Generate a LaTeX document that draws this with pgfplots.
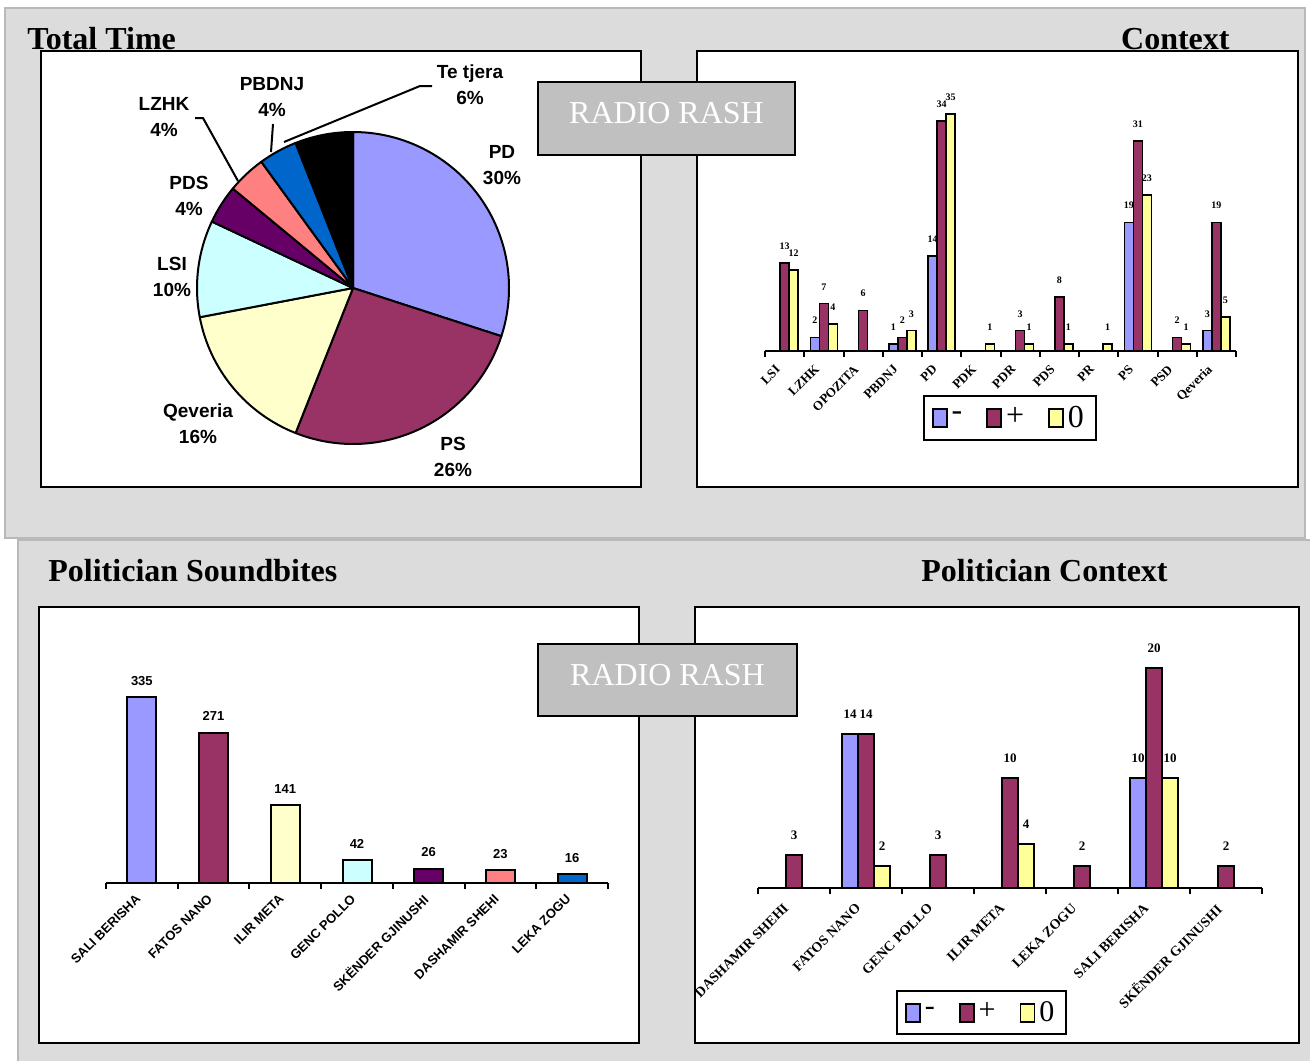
\documentclass[border=0pt]{standalone}
\usepackage{pgfplots}
\pgfplotsset{compat=1.18}
\usepackage{pgfplotstable}
\usepackage{fontspec}
\setmainfont{Liberation Serif}
\newfontfamily\arial{Liberation Sans}

\definecolor{cblue}{HTML}{9999FF}
\definecolor{cplum}{HTML}{993366}
\definecolor{cyel}{HTML}{FFFF99}
\definecolor{civory}{HTML}{FFFFCC}
\definecolor{ccyan}{HTML}{CCFFFF}
\definecolor{cpurp}{HTML}{660066}
\definecolor{csalmon}{HTML}{FF8080}
\definecolor{cocean}{HTML}{0066CC}
\definecolor{panel}{HTML}{DCDCDC}
\definecolor{radio}{HTML}{C0C0C0}

% Total Time (pie), percent per party
\pgfplotstableread{
name pct col
PD 30 cblue
PS 26 cplum
Qeveria 16 civory
LSI 10 ccyan
PDS 4 cpurp
LZHK 4 csalmon
PBDNJ 4 cocean
Tetjera 6 black
}\pietable

% Context: - / + / 0 per party
\pgfplotstableread{
x neg pos zero
0 nan 13 12
1 2 7 4
2 nan 6 nan
3 1 2 3
4 14 34 35
5 nan nan 1
6 nan 3 1
7 nan 8 1
8 nan nan 1
9 19 31 23
10 nan 2 1
11 3 19 5
}\ctxtable

% Politician context
\pgfplotstableread{
x neg pos zero
0 nan 3 nan
1 14 14 2
2 nan 3 nan
3 nan 10 4
4 nan 2 nan
5 10 20 10
6 nan 2 nan
}\polctx

\pgfplotsset{
  catbars/.style={
    scale only axis, clip=false,
    axis x line*=bottom, axis y line=none,
    axis line style={line width=1pt},
    major tick length=0pt, minor tick length=3pt,
    tick align=outside,
    minor tick style={line width=1pt, black},
    ymin=0,
    /pgf/number format/assume math mode=true,
  },
  sqimage/.style={
    legend image code/.code={\draw[##1, line width=0.9pt] (0pt,-4.5pt) rectangle (7pt,4.5pt);},
  },
}

\begin{document}
\begin{tikzpicture}
\begin{scope}[x=0.5pt, y=-0.5pt]
  \useasboundingbox (0,0) rectangle (1310,1060);
  \fill[white] (0,0) rectangle (1310,1060);
  \filldraw[fill=panel, draw=gray!55, line width=0.6pt] (5,8) rectangle (1305,538);
  \filldraw[fill=panel, draw=gray!55, line width=0.6pt] (18,540) rectangle (1314,1064);
  \filldraw[fill=white, draw=black, line width=1pt] (41,51) rectangle (641,487);
  \filldraw[fill=white, draw=black, line width=1pt] (697,51) rectangle (1298,487);
  \filldraw[fill=white, draw=black, line width=1pt] (39,607) rectangle (639,1043);
  \filldraw[fill=white, draw=black, line width=1pt] (695,607) rectangle (1299,1043);
  \coordinate (pie) at (353,288);
  \coordinate (ctx) at (765,351);
  \coordinate (snd) at (106,883);
  \coordinate (pol) at (758,888);
\end{scope}

% ---- Total Time pie
\begin{axis}[at={(pie)}, anchor=center, scale only axis, width=160pt, height=160pt,
  xmin=-1, xmax=1, ymin=-1, ymax=1, hide axis, clip=false]
\pgfplotsextra{
  \pgfplotstablegetrowsof{\pietable}
  \pgfmathtruncatemacro{\lastrow}{\pgfplotsretval-1}
  \gdef\cum{0}
  \foreach \i in {0,...,\lastrow}{
    \pgfplotstablegetelem{\i}{pct}\of\pietable
    \let\pctval\pgfplotsretval
    \pgfplotstablegetelem{\i}{col}\of\pietable
    \let\slicecol\pgfplotsretval
    \pgfmathsetmacro{\sa}{90-3.6*\cum}
    \pgfmathsetmacro{\sb}{90-3.6*(\cum+\pctval)}
    \filldraw[fill=\slicecol, draw=black, line width=1pt, line join=round]
      (axis cs:0,0) -- ++(\sa:78pt) arc[start angle=\sa, end angle=\sb, radius=78pt] -- cycle;
    \pgfmathsetmacro{\newcum}{\cum+\pctval}
    \xdef\cum{\newcum}
  }
}
\end{axis}

% ---- Context
\begin{axis}[catbars, at={(ctx)}, anchor=south west,
  width=235.5pt, height=118.5pt,
  xmin=-0.5, xmax=11.5, ymax=35,
  ybar=0pt, bar width=4.5pt,
  xtick={0,...,11},
  xticklabels={LSI,LZHK,OPOZITA,PBDNJ,PD,PDK,PDR,PDS,PR,PS,PSD,Qeveria},
  minor xtick={-0.5,0.5,...,11.5},
  xticklabel style={rotate=45, anchor=north east, inner sep=1pt, xshift=-7pt,
    font=\bfseries\fontsize{6.5}{7}\selectfont},
  nodes near coords,
  every node near coord/.append style={font=\bfseries\fontsize{5}{6}\selectfont, yshift=3pt},
  every axis plot/.append style={draw=black, line width=0.8pt, sqimage},
  legend columns=3,
  legend style={at={(0.52,-0.283)}, anchor=center, draw=black, line width=1pt,
    font=\fontsize{16}{17}\selectfont, inner xsep=4pt, inner ysep=3pt,
    /tikz/every even column/.append style={column sep=10pt}},
]
\addplot[fill=cblue] table[x=x, y=neg] {\ctxtable};
\addplot[fill=cplum] table[x=x, y=pos] {\ctxtable};
\addplot[fill=cyel] table[x=x, y=zero] {\ctxtable};
\addlegendentry{-}
\addlegendentry{+}
\addlegendentry{0}
\end{axis}

% ---- Politician Soundbites
\begin{axis}[catbars, at={(snd)}, anchor=south west,
  width=251pt, height=93pt,
  xmin=-0.5, xmax=6.5, ymax=335,
  xtick={0,...,6},
  xticklabels={SALI BERISHA,FATOS NANO,ILIR META,GENC POLLO,SKËNDER GJINUSHI,DASHAMIR SHEHI,LEKA ZOGU},
  minor xtick={-0.5,0.5,...,6.5},
  xticklabel style={rotate=45, anchor=north east, inner sep=1pt, xshift=-5pt,
    font=\arial\bfseries\fontsize{6.5}{7}\selectfont},
  nodes near coords,
  every node near coord/.append style={font=\arial\bfseries\fontsize{6.5}{7}\selectfont, yshift=2pt},
  every axis plot/.append style={ybar, bar width=14.5pt, bar shift=0pt, draw=black, line width=1pt},
]
\addplot[fill=cblue] coordinates {(0,335)};
\addplot[fill=cplum] coordinates {(1,271)};
\addplot[fill=civory] coordinates {(2,141)};
\addplot[fill=ccyan] coordinates {(3,42)};
\addplot[fill=cpurp] coordinates {(4,26)};
\addplot[fill=csalmon] coordinates {(5,23)};
\addplot[fill=cocean] coordinates {(6,16)};
\end{axis}

% ---- Politician Context
\begin{axis}[catbars, at={(pol)}, anchor=south west,
  width=252pt, height=110pt,
  xmin=-0.5, xmax=6.5, ymax=20,
  ybar=0pt, bar width=8pt,
  xtick={0,...,6},
  xticklabels={DASHAMIR SHEHI,FATOS NANO,GENC POLLO,ILIR META,LEKA ZOGU,SALI BERISHA,SKËNDER GJINUSHI},
  minor xtick={-0.5,0.5,...,6.5},
  xticklabel style={rotate=45, anchor=north east, inner sep=1pt, xshift=-8pt,
    font=\bfseries\fontsize{7}{8}\selectfont},
  nodes near coords,
  every node near coord/.append style={font=\bfseries\fontsize{6.5}{7}\selectfont, yshift=4pt},
  every axis plot/.append style={draw=black, line width=1pt, sqimage},
  legend columns=3,
  legend style={at={(0.444,-0.568)}, anchor=center, draw=black, line width=1pt,
    font=\fontsize{15}{16}\selectfont, inner xsep=4pt, inner ysep=3pt,
    /tikz/every even column/.append style={column sep=10pt}},
]
\addplot[fill=cblue] table[x=x, y=neg] {\polctx};
\addplot[fill=cplum] table[x=x, y=pos] {\polctx};
\addplot[fill=cyel] table[x=x, y=zero] {\polctx};
\addlegendentry{-}
\addlegendentry{+}
\addlegendentry{0}
\end{axis}

\begin{scope}[x=0.5pt, y=-0.5pt]
  % pie labels and leader lines
  \draw[line width=1pt] (284,142) -- (420,86) -- (432,86);
  \draw[line width=1pt] (273,124) -- (271,152);
  \draw[line width=1pt] (195,118) -- (203,118) -- (238,181);
  \begin{scope}[every node/.style={font=\arial\bfseries\fontsize{9.5}{13}\selectfont, align=center, inner sep=0pt}]
    \node at (470,85) {Te tjera\\6\%};
    \node at (272,97) {PBDNJ\\4\%};
    \node at (164,117) {LZHK\\4\%};
    \node at (189,196) {PDS\\4\%};
    \node at (172,277) {LSI\\10\%};
    \node at (198,424) {Qeveria\\16\%};
    \node at (453,457) {PS\\26\%};
    \node at (502,165) {PD\\30\%};
  \end{scope}
  % titles
  \begin{scope}[every node/.style={font=\bfseries\fontsize{16}{18}\selectfont, inner sep=0pt}]
    \node[anchor=base west] at (27,49) {Total Time};
    \node[anchor=base east] at (1230,49) {Context};
    \node[anchor=base west] at (48,581) {Politician Soundbites};
    \node[anchor=base west] at (921,581) {Politician Context};
  \end{scope}
  % RADIO RASH boxes
  \filldraw[fill=radio, draw=black, line width=1pt] (538,82) rectangle (795,155);
  \node[white, font=\fontsize{16}{18}\selectfont] at (666.5,113) {RADIO RASH};
  \filldraw[fill=radio, draw=black, line width=1pt] (538,644) rectangle (797,716);
  \node[white, font=\fontsize{16}{18}\selectfont] at (667.5,675) {RADIO RASH};
\end{scope}
\end{tikzpicture}
\end{document}
